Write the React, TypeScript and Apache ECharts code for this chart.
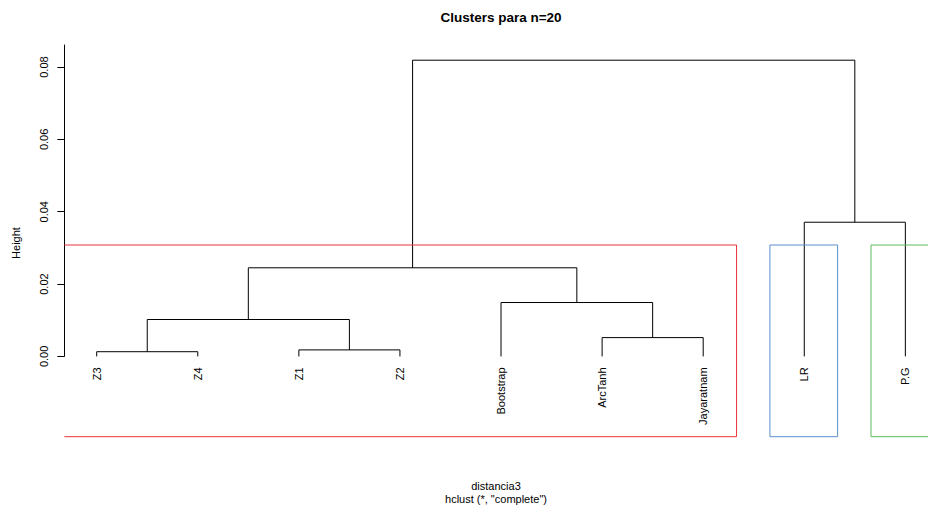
import React, { useEffect, useRef } from "react";
import * as echarts from "echarts";

// Leaves in dendrogram order
const leafLabels = ["Z3", "Z4", "Z1", "Z2", "Bootstrap", "ArcTanh", "Jayaratnam", "LR", "P.G"];
// hclust-style merge table: negative = leaf position (1-based), positive = earlier merge step
const mergeLeft = [-1, -3, -6, 1, -5, 4, -8, 6];
const mergeRight = [-2, -4, -7, 2, 3, 5, -9, 7];
const mergeHeight = [0.0013, 0.0018, 0.0052, 0.0102, 0.0149, 0.0245, 0.0371, 0.0819];
// rect.hclust with k = 3
const clusterSizes = [7, 1, 1];
const clusterColors = ["#E8333B", "#5B8FCF", "#5DBB5D"];
const yTicks = [0, 0.02, 0.04, 0.06, 0.08];

const FONT = "'Liberation Sans', Arial, Helvetica, sans-serif";
const Y_MIN = -0.0222;
const Y_MAX = 0.0861;
const X_MIN = 0.68;
const X_MAX = 9.224;

function buildLinks() {
  const nodeX: number[] = [];
  const pos = (id: number) =>
    id < 0 ? { x: -id, h: 0 } : { x: nodeX[id - 1], h: mergeHeight[id - 1] };
  return mergeHeight.map((h, i) => {
    const l = pos(mergeLeft[i]);
    const r = pos(mergeRight[i]);
    nodeX[i] = (l.x + r.x) / 2;
    return [l.x, l.h, r.x, r.h, h];
  });
}

function buildBoxes() {
  const k = clusterSizes.length;
  const sorted = [...mergeHeight].sort((a, b) => b - a);
  const top = (sorted[k - 2] + sorted[k - 1]) / 2;
  const boxes: number[][] = [];
  let m = 0;
  clusterSizes.forEach((size) => {
    boxes.push([m + 0.66, m + size + 0.33, top]);
    m += size;
  });
  return boxes;
}

export default function App() {
  const ref = useRef<HTMLDivElement>(null);

  useEffect(() => {
    if (!ref.current) return;
    const chart = echarts.init(ref.current, undefined, { renderer: "svg" });
    const links = buildLinks();
    const boxes = buildBoxes();

    chart.setOption({
      animation: false,
      backgroundColor: "#ffffff",
      grid: [
        { left: 64.35, right: 0, top: 45, bottom: 78.3 },
        { left: 64.35, right: 0, top: 45, height: 311.4 },
      ],
      xAxis: [
        { type: "value", gridIndex: 0, min: X_MIN, max: X_MAX, show: false },
        { type: "value", gridIndex: 1, min: 0, max: 1, show: false },
      ],
      yAxis: [
        { type: "value", gridIndex: 0, min: Y_MIN, max: Y_MAX, show: false },
        {
          type: "value",
          gridIndex: 1,
          min: 0,
          max: Y_MAX,
          position: "left",
          axisLine: { show: true, lineStyle: { color: "#000", width: 1 } },
          axisTick: {
            show: true,
            length: 7,
            customValues: yTicks,
            lineStyle: { color: "#000", width: 1 },
          },
          axisLabel: {
            show: true,
            customValues: yTicks,
            rotate: 90,
            margin: 15,
            fontSize: 11,
            fontFamily: FONT,
            color: "#000",
            formatter: (v: number) => v.toFixed(2),
          },
          splitLine: { show: false },
        },
      ],
      graphic: [
        {
          type: "text",
          x: 501,
          y: 17,
          style: {
            text: "Clusters para n=20",
            font: `bold 13.5px ${FONT}`,
            fill: "#000",
            align: "center",
            verticalAlign: "middle",
          },
        },
        {
          type: "text",
          x: 16,
          y: 243,
          rotation: Math.PI / 2,
          style: {
            text: "Height",
            font: `11px ${FONT}`,
            fill: "#000",
            align: "center",
            verticalAlign: "middle",
          },
        },
        {
          type: "text",
          x: 496,
          y: 486,
          style: {
            text: "distancia3",
            font: `11px ${FONT}`,
            fill: "#000",
            align: "center",
            verticalAlign: "middle",
          },
        },
        {
          type: "text",
          x: 496,
          y: 498.5,
          style: {
            text: 'hclust (*, "complete")',
            font: `11px ${FONT}`,
            fill: "#000",
            align: "center",
            verticalAlign: "middle",
          },
        },
      ],
      series: [
        {
          type: "custom",
          name: "links",
          xAxisIndex: 0,
          yAxisIndex: 0,
          data: links,
          encode: { x: [0, 2], y: [1, 3, 4] },
          renderItem: (_params: any, api: any) => {
            const p1 = api.coord([api.value(0), api.value(1)]);
            const p2 = api.coord([api.value(0), api.value(4)]);
            const p3 = api.coord([api.value(2), api.value(4)]);
            const p4 = api.coord([api.value(2), api.value(3)]);
            return {
              type: "polyline",
              shape: { points: [p1, p2, p3, p4] },
              style: { stroke: "#000", lineWidth: 1, fill: null },
            };
          },
        },
        {
          type: "custom",
          name: "leaves",
          xAxisIndex: 0,
          yAxisIndex: 0,
          data: leafLabels.map((_, i) => [i + 1, 0]),
          encode: { x: 0, y: 1 },
          renderItem: (params: any, api: any) => {
            const p = api.coord([api.value(0), api.value(1)]);
            return {
              type: "text",
              x: p[0],
              y: p[1] + 11,
              rotation: Math.PI / 2,
              style: {
                text: leafLabels[params.dataIndex],
                font: `11px ${FONT}`,
                fill: "#000",
                align: "right",
                verticalAlign: "middle",
              },
            };
          },
        },
        {
          type: "custom",
          name: "clusters",
          xAxisIndex: 0,
          yAxisIndex: 0,
          clip: false,
          data: boxes,
          encode: { x: [0, 1], y: 2 },
          renderItem: (params: any, api: any) => {
            // Boxes are cut at the plotting region's left edge, so a clipped box loses its left side
            const clipped = api.value(0) < X_MIN;
            const tl = api.coord([Math.max(api.value(0), X_MIN), api.value(2)]);
            const br = api.coord([api.value(1), Y_MIN]);
            const pts = clipped
              ? [[tl[0], tl[1]], [br[0], tl[1]], [br[0], br[1]], [tl[0], br[1]]]
              : [[tl[0], br[1]], [tl[0], tl[1]], [br[0], tl[1]], [br[0], br[1]], [tl[0], br[1]]];
            return {
              type: "polyline",
              shape: { points: pts },
              style: {
                stroke: clusterColors[params.dataIndex],
                lineWidth: 1,
                fill: null,
              },
            };
          },
        },
      ],
    });

    return () => chart.dispose();
  }, []);

  return (
    <div
      ref={ref}
      style={{ position: "fixed", left: 0, top: 0, width: 928, height: 515, background: "#fff" }}
    />
  );
}
